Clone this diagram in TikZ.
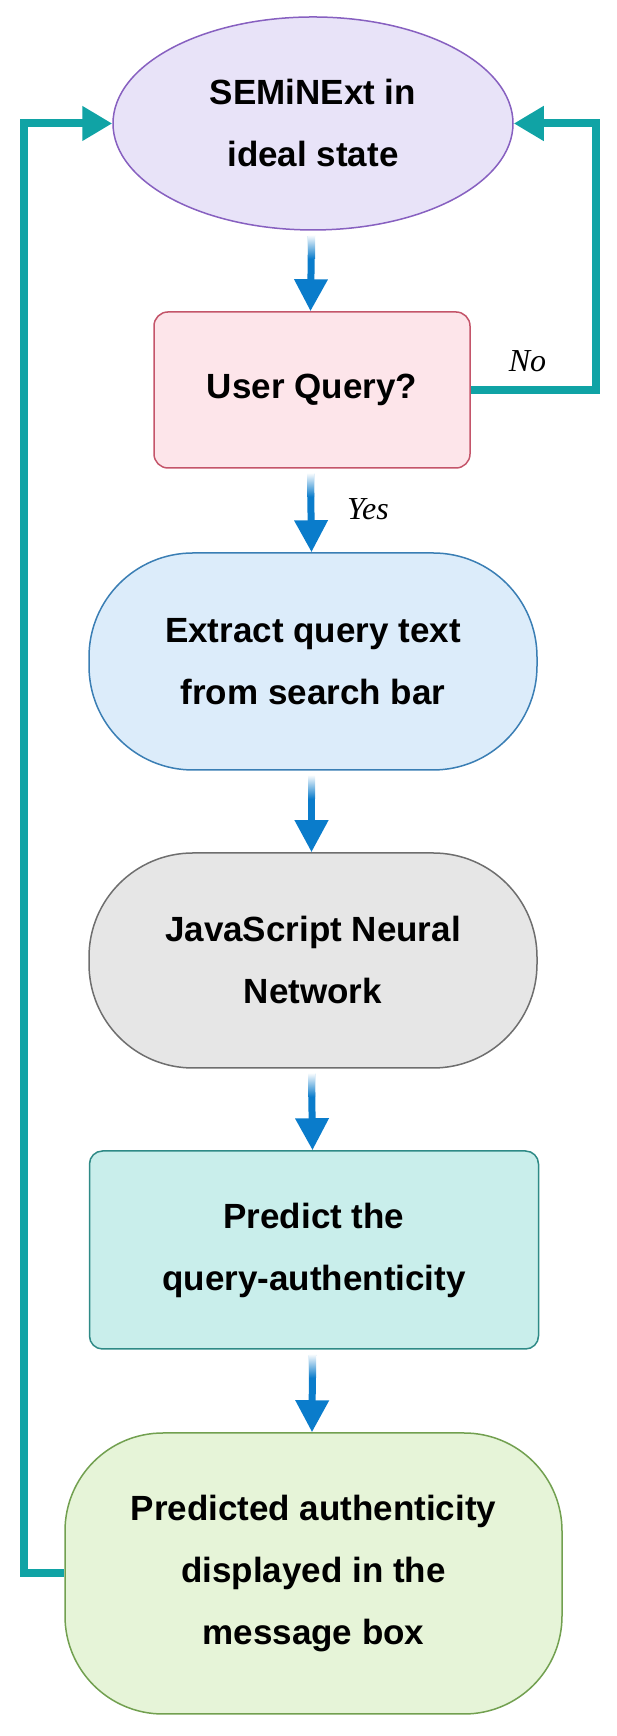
\documentclass[tikz,border=0pt]{standalone}
\usepackage{fontspec}
\setmainfont{Liberation Sans}
\newfontfamily\lblfont{Liberation Serif}
\usetikzlibrary{shapes.geometric, arrows.meta, calc}
\definecolor{ellfill}{HTML}{E8E3F8}
\definecolor{ellline}{HTML}{8760C0}
\definecolor{qryfill}{HTML}{FDE5EA}
\definecolor{qryline}{HTML}{C4556A}
\definecolor{extfill}{HTML}{DCECFA}
\definecolor{extline}{HTML}{3A7EB4}
\definecolor{nnfill}{HTML}{E6E6E6}
\definecolor{nnline}{HTML}{6E6E6E}
\definecolor{predfill}{HTML}{C9EEEB}
\definecolor{predline}{HTML}{2E8A86}
\definecolor{dispfill}{HTML}{E6F4D8}
\definecolor{displine}{HTML}{72A050}
\definecolor{flowblue}{HTML}{0A7CCB}
\definecolor{backteal}{HTML}{10A3A5}

\begin{document}
\begin{tikzpicture}[
        x=1pt, y=1pt,
        blk/.style={draw, line width=1.5pt, align=center, inner sep=0pt,
            font=\bfseries\fontsize{35}{62}\selectfont},
        flow/.style={draw=flowblue, line width=7pt, -{Triangle[length=32pt,width=32pt]}},
        back/.style={draw=backteal, line width=8pt, -{Triangle[length=30pt,width=33pt]}},
        lbl/.style={inner sep=0pt, font=\lblfont\itshape\fontsize{32}{36}\selectfont}
        ]
        \useasboundingbox (0,0) rectangle (616,1736);

        \node[blk, ellipse, fill=ellfill, draw=ellline, minimum width=400pt, minimum height=213pt] (ell) at (313,1612.5) {SEMiNExt in\\ideal state};
        \node[blk, rounded corners=14pt, fill=qryfill, draw=qryline, minimum width=316pt, minimum height=156pt] (qry) at (312,1346) {User Query?};
        \node[blk, rounded corners=104pt, fill=extfill, draw=extline, minimum width=448pt, minimum height=217pt] (ext) at (313,1074.5) {Extract query text\\from search bar};
        \node[blk, rounded corners=104pt, fill=nnfill, draw=nnline, minimum width=448pt, minimum height=215pt] (jsnn) at (313,775.5) {JavaScript Neural\\Network};
        \node[blk, rounded corners=13pt, fill=predfill, draw=predline, minimum width=449pt, minimum height=198pt] (pred) at (314,486) {Predict the\\query-authenticity};
        \node[blk, rounded corners=98pt, fill=dispfill, draw=displine, minimum width=497pt, minimum height=281pt] (disp) at (313.5,162.5) {Predicted authenticity\\displayed in the\\message box};

        \coordinate (lft) at (24,0);
        \coordinate (rgt) at (596,0);

        % main flow
        \foreach \src/\dst in {ell/qry, qry/ext, ext/jsnn, jsnn/pred, pred/disp}{
            \draw[flow] ($(\src.south)+(-1.5,-5)$) -- ($(\dst.north)+(-1.5,0)$);
            \shade[top color=white, bottom color=flowblue] ($(\src.south)+(-5,-4)$) rectangle ($(\src.south)+(2,-28)$);
        }

        % back to idle
        \draw[back] (qry.east) -- (rgt |- qry.east) -- (rgt |- ell.east) -- (ell.east);
        \draw[back] (disp.west) -- (lft |- disp.west) -- (lft |- ell.west) -- (ell.west);

        \node[lbl] (no) at (527.5,1374.5) {No};
        \node[lbl] (yes) at (368,1227) {Yes};
    \end{tikzpicture}
\end{document}
